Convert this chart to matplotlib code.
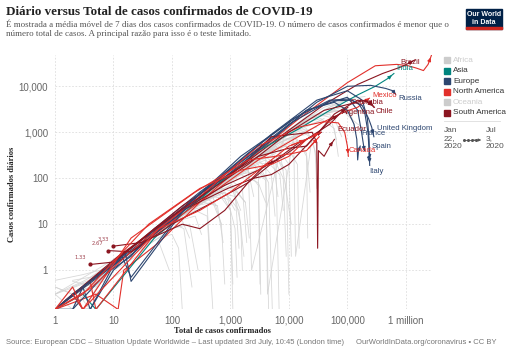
import matplotlib
matplotlib.use("Agg")
import matplotlib.pyplot as plt
from matplotlib.patches import Rectangle, FancyArrowPatch
from matplotlib.ticker import FixedLocator, NullLocator

# highlighted countries: total confirmed cases (x) and 7-day avg of daily cases (y)
us_total = [1, 5, 12, 15, 60, 300, 2000, 15000, 100000, 300000, 700000, 1100000, 1500000, 2000000, 2400000, 2750000]
us_daily = [0.14, 0.3, 0.14, 1, 4, 30, 250, 2000, 12000, 28000, 30000, 28000, 25000, 22000, 30000, 48000]
brazil_total = [1, 2, 25, 200, 1500, 8000, 40000, 150000, 400000, 800000, 1200000, 1450000]
brazil_daily = [0.14, 0.3, 3, 25, 180, 900, 4000, 11000, 19000, 26000, 33000, 38000]
india_total = [1, 3, 5, 50, 500, 3000, 15000, 50000, 150000, 300000, 500000, 625000]
india_daily = [0.14, 0.3, 0.14, 5, 60, 400, 1200, 3000, 6500, 10000, 15000, 19000]
russia_total = [1, 2, 3, 4, 10, 50, 200, 1000, 5000, 30000, 100000, 250000, 450000, 600000, 667000]
russia_daily = [0.14, 0.14, 0.43, 0.14, 1, 6, 30, 150, 700, 4500, 10000, 10500, 9000, 8000, 6700]
mexico_total = [1, 4, 5, 50, 400, 3000, 12000, 40000, 90000, 150000, 200000, 238000]
mexico_daily = [0.14, 0.57, 0.14, 6, 40, 250, 700, 1700, 2800, 3500, 4700, 5500]
colombia_total = [1, 10, 100, 800, 3000, 8000, 20000, 50000, 80000, 102000]
colombia_daily = [0.14, 1.5, 15, 70, 150, 300, 700, 1500, 2800, 3500]
argentina_total = [1, 12, 150, 900, 2500, 5000, 10000, 25000, 50000, 73000]
argentina_daily = [0.14, 2, 20, 60, 100, 120, 200, 700, 1800, 2500]
chile_total = [1, 20, 400, 3000, 10000, 20000, 60000, 150000, 250000, 285000]
chile_daily = [0.14, 3, 60, 300, 450, 500, 2500, 5000, 4500, 3500]
uk_total = [2, 3, 4, 9, 20, 50, 300, 2000, 10000, 50000, 120000, 180000, 230000, 260000, 284000]
uk_daily = [0.3, 0.14, 0.14, 1, 2, 8, 50, 300, 1500, 4800, 5000, 3800, 2000, 1300, 800]
ecuador_total = [1, 10, 150, 1500, 5000, 25000, 30000, 31000, 32000, 40000, 50000, 60000]
ecuador_daily = [0.14, 1.5, 25, 180, 800, 1000, 600, 3, 400, 300, 500, 700]
france_total = [1, 12, 100, 600, 4500, 20000, 60000, 100000, 130000, 145000, 150000, 155000, 166000]
france_daily = [0.14, 1.5, 12, 80, 600, 3000, 4500, 3000, 1500, 700, 250, 400, 500]
spain_total = [1, 2, 30, 400, 5000, 30000, 100000, 180000, 220000, 235000, 240000, 250000]
spain_daily = [0.14, 0.3, 4, 60, 900, 5000, 8000, 5000, 2000, 700, 300, 330]
canada_total = [1, 4, 30, 300, 3000, 15000, 40000, 70000, 90000, 100000, 104000]
canada_daily = [0.14, 0.4, 4, 40, 500, 1300, 1700, 1600, 1000, 500, 300]
italy_total = [3, 16, 20, 200, 2000, 12000, 50000, 110000, 160000, 200000, 225000, 235000, 241000]
italy_daily = [0.43, 2.3, 0.57, 30, 350, 2000, 5000, 5300, 4000, 2500, 1000, 400, 190]
germany_total = [1, 2, 14, 20, 150, 1500, 20000, 100000, 150000, 175000, 190000, 196000]
germany_daily = [0.14, 0.14, 2, 0.7, 20, 300, 3000, 5800, 3000, 1000, 500, 400]
peru_total = [4, 10, 50, 400, 2000, 10000, 40000, 100000, 200000, 290000]
peru_daily = [1.33, 1.5, 8, 50, 200, 1000, 3000, 4000, 5000, 3500]
bolivia_total = [8, 20, 100, 500, 2000, 6000, 15000, 30000, 36000]
bolivia_daily = [2.67, 2.5, 10, 30, 80, 250, 600, 900, 1000]
venezuela_total = [10, 30, 150, 300, 800, 2000, 4000, 6500]
venezuela_daily = [3.33, 4, 10, 8, 20, 80, 200, 250]
panama_total = [1, 3, 40, 300, 1500, 5000, 10000, 20000, 35000]
panama_daily = [0.14, 0.3, 10, 60, 150, 200, 300, 700, 1000]
dominican_total = [1, 2, 3, 20, 250, 2000, 6000, 12000, 20000, 33000]
dominican_daily = [0.14, 0.43, 0.14, 5, 50, 250, 300, 350, 400, 800]
honduras_total = [2, 3, 60, 300, 1000, 4000, 10000, 20000]
honduras_daily = [0.3, 0.14, 8, 20, 50, 200, 500, 700]

countries = [
    ("United States", "North America", us_total, us_daily),
    ("Brazil", "South America", brazil_total, brazil_daily),
    ("India", "Asia", india_total, india_daily),
    ("Russia", "Europe", russia_total, russia_daily),
    ("Germany", "Europe", germany_total, germany_daily),
    ("Mexico", "North America", mexico_total, mexico_daily),
    ("Colombia", "South America", colombia_total, colombia_daily),
    ("Argentina", "South America", argentina_total, argentina_daily),
    ("Chile", "South America", chile_total, chile_daily),
    ("United Kingdom", "Europe", uk_total, uk_daily),
    ("Ecuador", "South America", ecuador_total, ecuador_daily),
    ("France", "Europe", france_total, france_daily),
    ("Spain", "Europe", spain_total, spain_daily),
    ("Canada", "North America", canada_total, canada_daily),
    ("Italy", "Europe", italy_total, italy_daily),
    ("Peru", "South America", peru_total, peru_daily),
    ("Bolivia", "South America", bolivia_total, bolivia_daily),
    ("Venezuela", "South America", venezuela_total, venezuela_daily),
    ("Panama", "North America", panama_total, panama_daily),
    ("Dominican Republic", "North America", dominican_total, dominican_daily),
    ("Honduras", "North America", honduras_total, honduras_daily),
]

# remaining countries, drawn in grey
grey_totals = [
    [1, 3, 10, 40, 150, 500, 1500, 3000, 4000],
    [1, 2, 8, 30, 100, 400, 1000, 1800, 2100],
    [2, 6, 20, 100, 600, 3000, 10000, 25000, 40000],
    [1, 4, 15, 60, 200, 600, 1200, 1500, 1600],
    [3, 10, 30, 120, 500, 2000, 2300, 8000, 20000, 30000],
    [1, 5, 25, 90, 300, 800, 1400, 1700],
    [2, 8, 40, 200, 1000, 5000, 15000, 40000, 70000],
    [1, 2, 6, 20, 80, 250, 500, 700, 800],
    [4, 12, 50, 250, 1500, 8000, 30000, 60000, 80000],
    [1, 3, 12, 50, 200, 700, 2000, 5000, 9000],
    [2, 5, 15, 50, 150, 350, 600, 750],
    [5, 20, 100, 500, 3000, 12000, 13000, 25000, 32000],
    [1, 4, 20, 100, 400, 1500, 4000, 7000, 8000],
    [3, 9, 40, 150, 700, 2500, 6000, 12000, 18000],
    [1, 2, 4, 15, 60, 200, 400, 450],
    [2, 10, 50, 300, 2000, 10000, 40000, 120000, 200000],
    [1, 3, 9, 35, 150, 600, 2500, 5500, 6500],
    [6, 20, 80, 300, 1000, 3000, 5000, 5800],
    [1, 5, 20, 80, 350, 1200, 3500, 9000, 15000],
    [2, 7, 25, 90, 300, 700, 1000, 1100],
    [1, 3, 15, 70, 400, 2500, 15000, 45000, 80000],
    [4, 15, 60, 250, 1000, 4000, 4300, 12000, 20000, 23000],
    [1, 2, 5, 12, 30, 80, 150, 200],
    [3, 12, 60, 350, 2500, 15000, 60000, 110000, 140000],
    [1, 6, 30, 150, 800, 4000, 15000, 35000, 50000],
    [2, 4, 10, 25, 60, 130, 250, 320],
    [1, 3, 8, 30, 120, 500, 2000, 7000, 20000],
    [2, 8, 35, 150, 800, 4000, 18000, 50000, 65000],
    [1, 4, 14, 50, 180, 500, 900, 1200, 1300],
    [5, 15, 70, 400, 2000, 8000, 20000, 28000, 30000],
    [1, 2, 5, 12, 30, 60, 100, 130, 150],
    [1, 3, 6, 15, 50, 200, 800, 2000, 2500],
    [2, 4, 10, 30, 100, 300, 700, 1200, 1400],
    [1, 5, 30, 150, 600, 1500, 3000, 3300],
    [3, 7, 15, 40, 150, 600, 2500, 8000, 12000],
    [1, 2, 4, 10, 25, 70, 200, 500, 700],
    [2, 5, 20, 100, 500, 1500, 3000, 4500, 5200],
    [1, 2, 3, 6, 20, 80, 300, 1000, 1500],
    [4, 10, 40, 150, 500, 2000, 6000, 10000, 11000],
    [1, 3, 10, 25, 80, 250, 800, 2500, 4000],
    [2, 6, 15, 40, 100, 250, 400, 500],
    [1, 4, 12, 40, 120, 350, 1000, 3000, 10000, 25000],
    [3, 8, 25, 100, 400, 1600, 5000, 8000, 9000],
    [1, 2, 7, 25, 100, 350, 1000, 1800],
    [2, 9, 30, 120, 600, 3000, 12000, 35000, 60000, 70000],
    [1, 3, 5, 8, 15, 30, 60, 90],
    [5, 18, 70, 300, 1200, 4000, 9000, 14000, 15000],
    [1, 2, 10, 50, 250, 1000, 3000, 6000, 8000],
    [2, 5, 12, 30, 90, 250, 600, 1000, 1100],
    [1, 6, 20, 70, 300, 1300, 5000, 17000, 40000],
    [3, 10, 35, 110, 350, 900, 2000, 3000, 3200],
    [1, 4, 16, 60, 250, 900, 2500, 4000, 4500],
    [2, 3, 8, 20, 45, 100, 200, 280],
    [1, 5, 25, 120, 600, 3000, 14000, 50000, 100000],
    [6, 25, 100, 400, 1500, 5000, 13000, 20000, 21000],
    [1, 3, 9, 25, 60, 150, 350, 800, 1200],
    [2, 7, 30, 130, 500, 1800, 5000, 9000, 10000],
    [1, 2, 6, 18, 60, 200, 700, 2200, 6000],
    [4, 14, 50, 200, 800, 2800, 7000, 11000],
    [1, 3, 11, 45, 180, 700, 2500, 7000, 16000, 30000],
    [2, 10, 60, 400, 3000, 20000, 80000, 150000, 200000],
    [1, 8, 50, 300, 2000, 15000, 60000, 120000, 190000, 230000],
    [1, 2, 4, 9, 20, 45, 90, 160, 220],
    [1, 3, 7, 20, 70, 250, 900, 1600, 1900],
    [2, 5, 18, 70, 300, 1100, 3500, 6000, 6800],
    [1, 2, 3, 5, 12, 35, 110, 350, 600],
]
grey_daily = [
    [0.14, 0.4, 1.2, 5, 18, 50, 120, 80, 30],
    [0.14, 0.14, 1, 4, 12, 40, 70, 30, 5],
    [0.3, 0.8, 3, 14, 80, 350, 900, 1500, 2000],
    [0.14, 0.6, 2, 8, 25, 50, 40, 10, 1],
    [0.43, 1.3, 4, 15, 60, 250, 1, 700, 900, 600],
    [0.14, 0.7, 3.5, 10, 30, 50, 20, 2],
    [0.3, 1, 6, 25, 130, 600, 1200, 2500, 3000],
    [0.14, 0.3, 0.8, 3, 10, 25, 30, 10, 0.5],
    [0.6, 1.7, 7, 35, 200, 1000, 2500, 2000, 800],
    [0.14, 0.43, 1.7, 7, 25, 70, 180, 400, 500],
    [0.3, 0.7, 2, 6, 15, 30, 25, 4],
    [0.7, 3, 14, 70, 400, 1200, 2, 800, 150],
    [0.14, 0.6, 3, 12, 45, 150, 250, 120, 20],
    [0.43, 1.3, 6, 20, 90, 250, 450, 600, 700],
    [0.14, 0.14, 0.43, 2, 7, 20, 25, 2],
    [0.3, 1.4, 7, 40, 250, 1100, 3500, 5500, 6000],
    [0.14, 0.43, 1.3, 5, 18, 60, 220, 200, 40],
    [0.86, 3, 11, 40, 120, 250, 120, 15],
    [0.14, 0.7, 3, 10, 40, 120, 300, 600, 900],
    [0.3, 1, 3.5, 12, 35, 50, 20, 0.5],
    [0.14, 0.4, 2, 9, 50, 300, 1500, 2800, 3500],
    [0.6, 2, 8, 30, 120, 400, 0.3, 800, 350, 50],
    [0.14, 0.3, 0.7, 1.7, 4, 9, 12, 5],
    [0.43, 1.7, 8, 45, 300, 1500, 4000, 3000, 1000],
    [0.14, 0.86, 4, 20, 100, 450, 1200, 1800, 1500],
    [0.3, 0.43, 1.3, 3, 7, 12, 15, 6],
    [0.14, 0.43, 1, 4, 14, 50, 200, 600, 1100],
    [0.3, 1.1, 5, 18, 100, 500, 1800, 2500, 700],
    [0.14, 0.6, 2, 7, 20, 40, 35, 8, 0.7],
    [0.7, 2, 10, 55, 250, 800, 1200, 400, 60],
    [0.43, 0.3, 0.7, 1.5, 3, 5, 6, 3, 0.14],
    [0.6, 0.8, 1, 2, 6, 25, 90, 150, 40],
    [0.6, 0.7, 1.5, 4, 12, 35, 60, 50, 3],
    [0.3, 1, 4, 18, 60, 120, 150, 0.3],
    [0.43, 0.57, 2, 5, 18, 70, 250, 600, 300],
    [0.14, 0.43, 0.14, 1, 2, 8, 20, 40, 10],
    [0.3, 0.7, 3, 15, 70, 150, 200, 80, 0.14],
    [0.14, 0.14, 0.43, 0.57, 3, 10, 30, 70, 20],
    [0.57, 1.4, 5, 20, 60, 200, 500, 200, 2],
    [0.14, 0.43, 1.4, 3, 10, 25, 70, 200, 100],
    [0.3, 0.86, 2, 4, 10, 20, 15, 0.14],
    [0.14, 0.57, 1.7, 5, 14, 40, 110, 300, 900, 2000],
    [0.43, 1, 3.5, 14, 55, 200, 350, 100, 2],
    [0.14, 0.3, 1, 3.5, 13, 40, 80, 30],
    [0.3, 1.3, 4, 17, 80, 400, 1300, 2000, 1200, 300],
    [0.14, 0.43, 0.3, 0.57, 1, 2, 4, 1],
    [0.7, 2.5, 10, 40, 140, 380, 500, 200, 3],
    [0.14, 0.3, 1.4, 7, 30, 110, 250, 300, 150],
    [0.57, 0.43, 1.7, 4, 12, 30, 50, 20, 0.14],
    [0.14, 0.86, 2.8, 9, 38, 150, 500, 1400, 2500],
    [0.43, 1.4, 5, 14, 40, 90, 140, 70, 0.5],
    [0.3, 0.57, 2.3, 8, 30, 90, 180, 90, 0.14],
    [0.3, 0.14, 1, 2, 4, 8, 10, 1],
    [0.14, 0.7, 3.5, 16, 75, 350, 1400, 3500, 5000],
    [0.86, 3.5, 14, 50, 180, 500, 800, 300, 5],
    [0.14, 0.43, 1.3, 3, 7, 15, 30, 50, 20],
    [0.3, 1, 4, 17, 60, 180, 380, 150, 0.3],
    [0.43, 0.3, 0.86, 2.5, 8, 25, 80, 200, 350],
    [0.57, 2, 7, 27, 100, 300, 400, 10],
    [0.14, 0.43, 1.6, 6, 22, 80, 260, 600, 1000, 1300],
    [0.3, 1.4, 8, 50, 350, 2200, 3000, 1500, 1200],
    [0.14, 1.1, 7, 40, 250, 1600, 3000, 2500, 3000, 2600],
    [0.14, 0.3, 0.57, 1.3, 3, 6, 11, 8, 0.43],
    [0.3, 0.57, 1, 3, 9, 30, 100, 60, 4],
    [0.43, 0.7, 2.5, 9, 35, 120, 330, 200, 0.14],
    [0.3, 0.14, 0.43, 0.57, 1.7, 5, 14, 40, 25],
]

start_labels = ["1.33", "2.67", "3.33"]
start_series = [(peru_total, peru_daily), (bolivia_total, bolivia_daily), (venezuela_total, venezuela_daily)]

x_ticks = [1, 10, 100, 1000, 10000, 100000, 1000000]
x_ticklabels = ["1", "10", "100", "1,000", "10,000", "100,000", "1 million"]
y_ticks = [1, 10, 100, 1000, 10000]
y_ticklabels = ["1", "10", "100", "1,000", "10,000"]

legend_names = ["Africa", "Asia", "Europe", "North America", "Oceania", "South America"]
colors = {"Africa": "#cccccc", "Asia": "#00847e", "Europe": "#2d4670",
          "North America": "#e2302b", "Oceania": "#cccccc", "South America": "#8b1520"}
# label offsets in points from each line's last point
label_offsets = {"Brazil": (-11, -2), "India": (2, 3.6), "Russia": (2, -3), "Mexico": (2.5, 2),
                 "Colombia": (2, 3.6), "Argentina": (2, 1.2), "Chile": (1, -3),
                 "United Kingdom": (2, 6), "Ecuador": (2, 7), "France": (0.5, 9),
                 "Spain": (1, 6), "Canada": (0.5, 4.3), "Italy": (-0.5, -4.3)}

fig = plt.figure(figsize=(5.12, 3.6), dpi=100)
ax = fig.add_axes([55 / 512, 1 - 309 / 360, 377 / 512, 254 / 360])

for tt, dd in zip(grey_totals, grey_daily):
    ax.plot(tt, dd, color="#d2d2d2", lw=0.6, alpha=0.85, zorder=2)

for name, cont, tt, dd in countries:
    c = colors[cont]
    ax.plot(tt, dd, color=c, lw=0.8, zorder=3)
    ax.annotate("", xy=(tt[-1], dd[-1]), xytext=(tt[-2], dd[-2]),
                arrowprops=dict(arrowstyle="-|>", color=c, lw=0.8, mutation_scale=5), zorder=3)
    if name in label_offsets:
        ax.annotate(name, xy=(tt[-1], dd[-1]), xytext=label_offsets[name],
                    textcoords="offset points", color=c, fontsize=5.6, va="center",
                    family="Liberation Sans", zorder=5)

for lab, (tt, dd) in zip(start_labels, start_series):
    ax.plot(tt[0], dd[0], "o", color=colors["South America"], ms=2, zorder=4)
    ax.annotate(lab, xy=(tt[0], dd[0]), xytext=(-3, 3), textcoords="offset points",
                color="#a04450", fontsize=3.8, ha="right", va="bottom", zorder=5)

ax.set_xscale("log")
ax.set_yscale("log")
ax.set_xlim(1, 2.8e6)
ax.set_ylim(1 / 7, 48000)
ax.xaxis.set_major_locator(FixedLocator(x_ticks))
ax.yaxis.set_major_locator(FixedLocator(y_ticks))
ax.xaxis.set_minor_locator(NullLocator())
ax.yaxis.set_minor_locator(NullLocator())
ax.set_xticklabels(x_ticklabels)
ax.set_yticklabels(y_ticklabels)
ax.tick_params(length=0, labelsize=7, colors="#666666", pad=5)
for lab in ax.get_xticklabels() + ax.get_yticklabels():
    lab.set_family("Liberation Sans")
for s in ax.spines.values():
    s.set_visible(False)
ax.grid(True, color="#dddddd", lw=0.6, ls=(0, (2, 2)))
ax.set_axisbelow(True)

ax.set_xlabel("Total de casos confirmados", family="Liberation Serif", fontweight="bold",
              fontsize=6, color="#222222")
ax.xaxis.set_label_coords((222 - 55) / 377, -(327 - 309) / 254)
ax.set_ylabel("Casos confirmados diários", family="Liberation Serif", fontweight="bold",
              fontsize=6, color="#222222")
ax.yaxis.set_label_coords(-(55 - 16) / 377, 0.45)

fig.text(6 / 512, 1 - 12 / 360, "Diário versus Total de casos confirmados de COVID-19",
         family="Liberation Serif", fontweight="bold", fontsize=9.4, color="#222222", va="center")
fig.text(6 / 512, 1 - 29 / 360,
         "É mostrada a média móvel de 7 dias dos casos confirmados de COVID-19. O número de casos confirmados é menor que o\n"
         "número total de casos. A principal razão para isso é o teste limitado.",
         family="Liberation Serif", fontsize=6.5, color="#555555", va="center", linespacing=1.25)
fig.text(6 / 512, 1 - 342 / 360,
         "Source: European CDC – Situation Update Worldwide – Last updated 3rd July, 10:45 (London time)",
         family="Liberation Sans", fontsize=5.5, color="#777777", va="center")
fig.text(497 / 512, 1 - 342 / 360, "OurWorldInData.org/coronavirus • CC BY",
         family="Liberation Sans", fontsize=5.5, color="#777777", va="center", ha="right")

# logo
fig.patches.append(Rectangle((466 / 512, 1 - 29 / 360), 36 / 512, 20 / 360,
                             transform=fig.transFigure, color="#002147"))
fig.patches.append(Rectangle((466 / 512, 1 - 29 / 360), 36 / 512, 1.6 / 360,
                             transform=fig.transFigure, color="#ce261e"))
fig.text(484 / 512, 1 - 18.5 / 360, "Our World\nin Data", color="white", fontsize=5,
         family="Liberation Sans", fontweight="bold", ha="center", va="center", linespacing=1.0)

# legend
for i, cont in enumerate(legend_names):
    yc = 60 + i * 10.6
    fig.patches.append(Rectangle((444 / 512, 1 - (yc + 3) / 360), 6 / 512, 6 / 360,
                                 transform=fig.transFigure, color=colors[cont]))
    tc = "#cccccc" if cont in ("Africa", "Oceania") else "#333333"
    fig.text(453 / 512, 1 - yc / 360, cont, fontsize=5.9, color=tc,
             family="Liberation Sans", va="center")
fig.add_artist(plt.Line2D([444 / 512, 500 / 512], [1 - 121 / 360] * 2, color="#dddddd", lw=0.6))
fig.text(444 / 512, 1 - 139 / 360, "Jan\n22,\n2020", fontsize=6, color="#555555",
         family="Liberation Sans", va="center", linespacing=1.2)
fig.text(486 / 512, 1 - 139 / 360, "Jul\n3,\n2020", fontsize=6, color="#555555",
         family="Liberation Sans", va="center", linespacing=1.2)
fig.add_artist(plt.Line2D([464 / 512, 468 / 512, 472 / 512, 476 / 512], [1 - 140 / 360] * 4,
                          color="#555555", lw=0.6, marker="o", ms=1.2))
fig.patches.append(FancyArrowPatch((470 / 512, 1 - 140 / 360), (484 / 512, 1 - 140 / 360),
                                   transform=fig.transFigure, arrowstyle="-|>",
                                   mutation_scale=4, color="#555555", lw=0.6))

fig.savefig("out.png", dpi=100)
